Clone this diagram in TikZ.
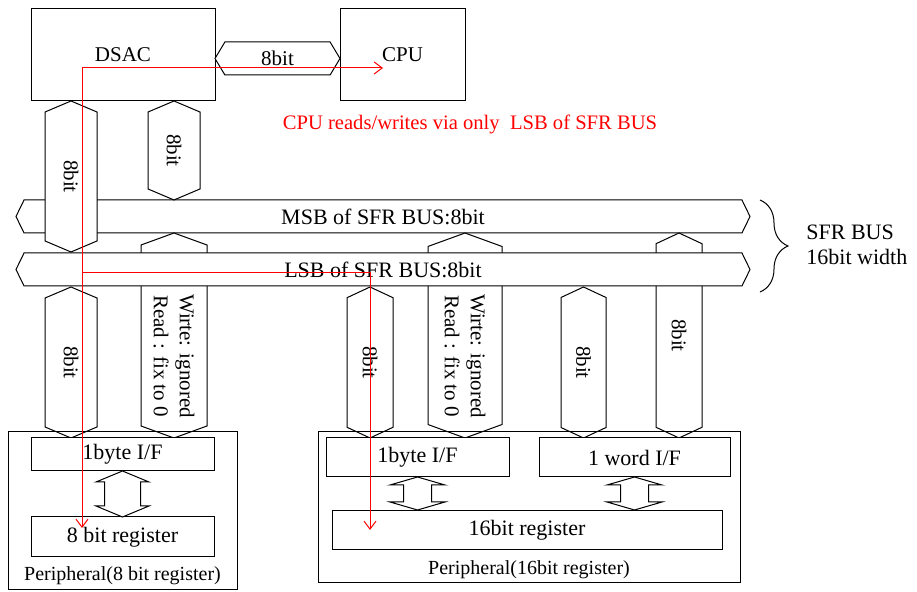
\documentclass[tikz,border=0pt]{standalone}
\usepackage{fontspec}
\setmainfont{Liberation Serif}
\usetikzlibrary{shapes.symbols,arrows.meta,decorations.pathreplacing}

\tikzset{
  blk/.style={draw, line width=0.5pt, fill=white, inner sep=0pt, outer sep=0pt,
    font=\fontsize{10.5}{12}\selectfont},
  regbox/.style={blk, font=\fontsize{11}{13}\selectfont},
  hbus/.style={draw, line width=0.5pt, fill=white, shape=signal, signal to=east and west,
    inner sep=0pt, outer sep=0pt, font=\fontsize{10.5}{12}\selectfont},
  sfrbus/.style={hbus, minimum width=367pt, minimum height=16.5pt, signal pointer angle=128,
    font=\fontsize{11}{13}\selectfont},
  vbus/.style={hbus, rotate=-90, minimum height=26pt, signal pointer angle=134},
  vtext/.style={rotate=-90, align=center, inner sep=0pt, font=\fontsize{10.5}{13}\selectfont},
  xfer/.style={draw, line width=0.5pt, fill=white, line join=miter},
  note/.style={inner sep=0pt, font=\fontsize{10}{12}\selectfont},
  rdarrow/.style={draw=red, line width=0.5pt, -{Straight Barb[length=4pt,width=6pt]}},
}

\begin{document}
\begin{tikzpicture}[x=0.5pt, y=-0.5pt]
\useasboundingbox (0,0) rectangle (917,592);

% CPU and DSAC
\node[blk, minimum width=92pt, minimum height=46pt] (dsac) at (123,55) {DSAC};
\node[blk, minimum width=62.5pt, minimum height=46pt] (cpu) at (402.5,55) {CPU};
\node[hbus, minimum width=62.5pt, minimum height=16.5pt, signal pointer angle=118] (cbus) at (277.5,58.5) {8bit};
\node[note, red, font=\fontsize{10.3}{12}\selectfont] (rdnote) at (470,124) {CPU reads/writes via only\ \ LSB of SFR BUS};

% SFR BUS
\node[sfrbus] (msb) at (383,216.5) {MSB of SFR BUS:8bit};
\node[vbus, minimum width=75.5pt] (b1) at (71,176.5) {8bit};
\node[vbus, minimum width=49.5pt] (b2) at (174,150.5) {8bit};
\node[vbus, minimum width=102.5pt, minimum height=33pt, signal pointer angle=140] (b3) at (174,335.5) {};
\node[vbus, minimum width=102.5pt, minimum height=37pt, signal pointer angle=140] (b4) at (465,335.5) {};
\node[vbus, minimum width=102.5pt, minimum height=23pt, signal pointer angle=130] (b5) at (679,335.5) {8bit};
\node[sfrbus] (lsb) at (383,269.5) {LSB of SFR BUS:8bit};
\node[vbus, minimum width=75.5pt] (b6) at (71,362.5) {8bit};
\node[vbus, minimum width=75.5pt, minimum height=23pt, signal pointer angle=130] (b7) at (370,362.5) {8bit};
\node[vbus, minimum width=75.5pt, minimum height=22.5pt, signal pointer angle=130] (b8) at (583.5,362.5) {8bit};
\node[vtext] (b3txt) at (174,356) {Wirte: ignored\\Read : fix to 0};
\node[vtext] (b4txt) at (465,356) {Wirte: ignored\\Read : fix to 0};

\coordinate (brtop) at (760,200);
\coordinate (brbot) at (760,292);
\draw[line width=0.5pt, decorate, decoration={brace, amplitude=14pt}] (brtop) -- (brbot);
\node[anchor=west, align=left, inner sep=0pt, font=\fontsize{11}{12.5}\selectfont] (sfrlbl) at (806,245) {SFR BUS\\16bit width};

% peripherals
\node[draw, line width=0.5pt, minimum width=114.5pt, minimum height=79pt] (per8) at (122.5,511) {};
\node[regbox, minimum width=91.5pt, minimum height=16.5pt] (if8) at (122.5,454.5) {1byte I/F};
\node[regbox, minimum width=91.5pt, minimum height=20pt] (reg8) at (122.5,537) {8 bit register};
\node[note] (per8lbl) at (122.5,576) {Peripheral(8 bit register)};
\draw[xfer] (if8.south) -- ++(26.5,11) -- ++(-8.5,0) -- ++(0,24) -- ++(8.5,0) -- ++(-26.5,11)
  -- ++(-26.5,-11) -- ++(8.5,0) -- ++(0,-24) -- ++(-8.5,0) -- cycle;

\node[draw, line width=0.5pt, minimum width=211pt, minimum height=75.5pt] (per16) at (529,507.5) {};
\node[regbox, minimum width=91.5pt, minimum height=19.5pt] (if16) at (417.5,457.5) {1byte I/F};
\node[regbox, minimum width=95.5pt, minimum height=19.5pt] (ifw) at (634.5,457.5) {1 word I/F};
\node[regbox, minimum width=195pt, minimum height=19.5pt] (reg16) at (527,530.5) {16bit register};
\node[note] (per16lbl) at (529,570) {Peripheral(16bit register)};
\draw[xfer] (if16.south) -- ++(27.5,8) -- ++(-13.5,0) -- ++(0,17) -- ++(13.5,0) -- ++(-27.5,8)
  -- ++(-27.5,-8) -- ++(13.5,0) -- ++(0,-17) -- ++(-13.5,0) -- cycle;
\draw[xfer] (ifw.south) -- ++(27.5,8) -- ++(-13.5,0) -- ++(0,17) -- ++(13.5,0) -- ++(-27.5,8)
  -- ++(-27.5,-8) -- ++(13.5,0) -- ++(0,-17) -- ++(-13.5,0) -- cycle;

% access path of the CPU
\coordinate (rdsrc) at (82,68);
\coordinate (rdcpu) at (383,68);
\coordinate (rdreg8) at (82,528);
\coordinate (rdlsb) at (82,273);
\coordinate (rdreg16) at (370,530);
\draw[rdarrow] (rdsrc) -- (rdcpu);
\draw[rdarrow] (rdsrc) -- (rdreg8);
\draw[rdarrow] (rdlsb) -| (rdreg16);
\end{tikzpicture}
\end{document}
